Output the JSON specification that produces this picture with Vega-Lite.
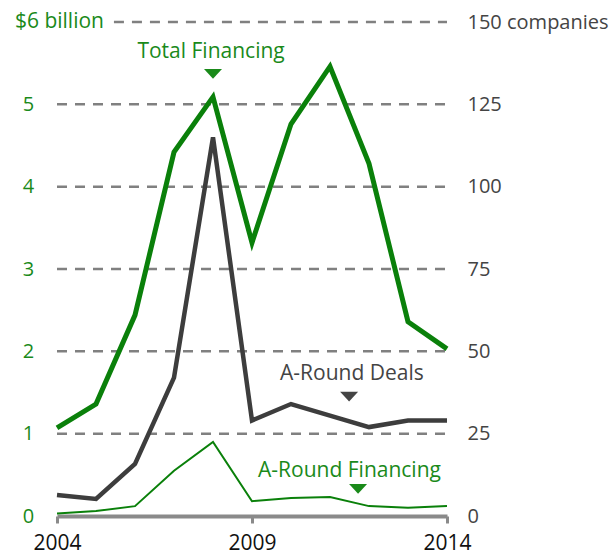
{
  "$schema": "https://vega.github.io/schema/vega-lite/v6.json",
  "width": 390,
  "height": 494,
  "autosize": "none",
  "padding": {"left": 57, "top": 22, "right": 166, "bottom": 38},
  "background": "white",
  "config": {"view": {"stroke": null}, "font": "Open Sans", "text": {"font": "Open Sans"}},
  "datasets": {
    "series": [
      {"year": 2004, "total": 1.07, "afin": 0.03, "deals": 6.4},
      {"year": 2005, "total": 1.36, "afin": 0.06, "deals": 5.2},
      {"year": 2006, "total": 2.44, "afin": 0.12, "deals": 15.8},
      {"year": 2007, "total": 4.42, "afin": 0.55, "deals": 42},
      {"year": 2008, "total": 5.09, "afin": 0.9, "deals": 115},
      {"year": 2009, "total": 3.32, "afin": 0.18, "deals": 29},
      {"year": 2010, "total": 4.76, "afin": 0.22, "deals": 34},
      {"year": 2011, "total": 5.46, "afin": 0.23, "deals": 30.5},
      {"year": 2012, "total": 4.28, "afin": 0.12, "deals": 27},
      {"year": 2013, "total": 2.36, "afin": 0.1, "deals": 29},
      {"year": 2014, "total": 2.03, "afin": 0.12, "deals": 29}
    ],
    "grid": [
      {"v": 1, "x1": 2004, "x2": 2014},
      {"v": 2, "x1": 2004, "x2": 2014},
      {"v": 3, "x1": 2004, "x2": 2014},
      {"v": 4, "x1": 2004, "x2": 2014},
      {"v": 5, "x1": 2004, "x2": 2014},
      {"v": 6, "x1": 2005.46, "x2": 2014}
    ],
    "labels": [
      {"x": 2007.95, "y": 5.64, "label": "Total Financing", "c": "green"},
      {"x": 2011.56, "y": 1.72, "label": "A-Round Deals", "c": "gray"},
      {"x": 2011.5, "y": 0.55, "label": "A-Round Financing", "c": "green"}
    ],
    "markers": [
      {"x": 2008.0, "y": 5.37, "c": "green"},
      {"x": 2011.49, "y": 1.45, "c": "gray"},
      {"x": 2011.72, "y": 0.33, "c": "green"}
    ]
  },
  "layer": [
    {
      "layer": [
        {
          "data": {"name": "grid"},
          "mark": {"type": "rule", "stroke": "#808080", "strokeWidth": 2.5, "strokeDash": [10, 8]},
          "encoding": {
            "x": {"field": "x1", "type": "quantitative", "scale": {"domain": [2004, 2014], "nice": false, "zero": false},
              "axis": {"values": [2004, 2009, 2014], "format": "d", "title": null, "grid": false, "domainColor": "#8a8a8a", "domainWidth": 4, "tickColor": "#8a8a8a", "tickWidth": 3, "tickSize": 7, "labelFontSize": 21, "labelColor": "#111", "labelPadding": 9, "labelFlush": false}},
            "x2": {"field": "x2"},
            "y": {"field": "v", "type": "quantitative", "scale": {"domain": [0, 6], "nice": false},
              "axis": {"orient": "left", "values": [0, 1, 2, 3, 4, 5], "format": "d", "title": null, "grid": false, "domain": false, "ticks": false, "labelAlign": "center", "labelPadding": 29, "labelFontSize": 20, "labelColor": "#1a8a1a"}}
          }
        },
        {
          "data": {"name": "series"},
          "mark": {"type": "line", "stroke": "#0a800a", "strokeWidth": 5, "strokeJoin": "miter"},
          "encoding": {
            "x": {"field": "year", "type": "quantitative"},
            "y": {"field": "total", "type": "quantitative"}
          }
        },
        {
          "data": {"name": "series"},
          "mark": {"type": "line", "stroke": "#0a800a", "strokeWidth": 2},
          "encoding": {
            "x": {"field": "year", "type": "quantitative"},
            "y": {"field": "afin", "type": "quantitative"}
          }
        },
        {
          "data": {"values": [{"x": 2004, "y": 6, "label": "$6 billion"}]},
          "mark": {"type": "text", "align": "right", "baseline": "middle", "dx": 47, "fontSize": 21, "color": "#1a8a1a"},
          "encoding": {
            "x": {"field": "x", "type": "quantitative"},
            "y": {"field": "y", "type": "quantitative"},
            "text": {"field": "label"}
          }
        },
        {
          "data": {"name": "labels"},
          "mark": {"type": "text", "align": "center", "baseline": "middle", "fontSize": 21},
          "encoding": {
            "x": {"field": "x", "type": "quantitative"},
            "y": {"field": "y", "type": "quantitative"},
            "text": {"field": "label"},
            "color": {"field": "c", "type": "nominal", "scale": {"domain": ["green", "gray"], "range": ["#1a8a1a", "#444444"]}, "legend": null}
          }
        },
        {
          "data": {"name": "markers"},
          "mark": {"type": "point", "shape": "M-1,-0.55L1,-0.55L0,0.55Z", "size": 324, "filled": true, "opacity": 1},
          "encoding": {
            "x": {"field": "x", "type": "quantitative"},
            "y": {"field": "y", "type": "quantitative"},
            "color": {"field": "c", "type": "nominal", "scale": {"domain": ["green", "gray"], "range": ["#0a800a", "#3d3d3d"]}, "legend": null}
          }
        }
      ]
    },
    {
      "data": {"name": "series"},
      "mark": {"type": "line", "stroke": "#3d3d3d", "strokeWidth": 4.5},
      "encoding": {
        "x": {"field": "year", "type": "quantitative"},
        "y": {"field": "deals", "type": "quantitative", "scale": {"domain": [0, 150], "nice": false},
          "axis": {"orient": "right", "values": [0, 25, 50, 75, 100, 125, 150], "labelExpr": "datum.value == 150 ? '150 companies' : datum.label", "title": null, "grid": false, "domain": false, "ticks": false, "labelAlign": "left", "labelPadding": 20, "labelFontSize": 20, "labelColor": "#444444"}}
      }
    }
  ],
  "resolve": {"scale": {"y": "independent", "color": "independent"}}
}
